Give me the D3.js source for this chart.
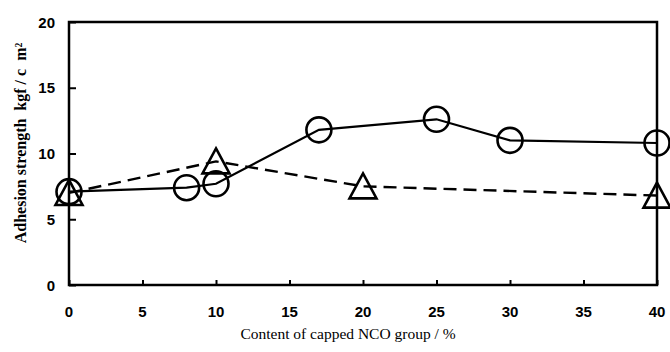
<!DOCTYPE html>
<html>
<head>
<meta charset="utf-8">
<script src="https://cdn.jsdelivr.net/npm/d3@7"></script>
<style>
  body { margin: 0; background: #fff; }
  svg { display: block; }
</style>
</head>
<body>
<svg id="chart" width="670" height="352"></svg>
<script>
// ---- data ----
const circleX = [0, 8, 10, 17, 25, 30, 40];
const circleY = [7.1, 7.4, 7.7, 11.8, 12.6, 11.0, 10.8];
const triangleX = [0, 10, 20, 40];
const triangleY = [7.0, 9.4, 7.5, 6.8];
const xTicks = [0, 5, 10, 15, 20, 25, 30, 35, 40];
const yTicks = [0, 5, 10, 15, 20];
const xTitle = "Content of capped NCO group / %";
const yTitle = "Adhesion strength  kgf / c  m²";

// ---- layout ----
const mLeft = 69, mRight = 657, mTop = 22, mBottom = 285;
const svg = d3.select("#chart");
const x = d3.scaleLinear().domain([0, 40]).range([mLeft, mRight]);
const y = d3.scaleLinear().domain([0, 20]).range([mBottom, mTop]);

// frame
svg.append("rect")
  .attr("x", mLeft).attr("y", mTop)
  .attr("width", mRight - mLeft).attr("height", mBottom - mTop)
  .attr("fill", "none").attr("stroke", "#000").attr("stroke-width", 2.5);

// axes with inward ticks
const xAxis = svg.append("g").attr("transform", `translate(0,${mBottom})`)
  .call(d3.axisTop(x).tickValues(xTicks).tickSize(5).tickFormat(""));
xAxis.select(".domain").remove();
xAxis.selectAll("line").attr("stroke", "#000").attr("stroke-width", 2);

const yAxis = svg.append("g").attr("transform", `translate(${mLeft},0)`)
  .call(d3.axisRight(y).tickValues(yTicks).tickSize(7).tickFormat(""));
yAxis.select(".domain").remove();
yAxis.selectAll("line").attr("stroke", "#000").attr("stroke-width", 2);

// tick labels
const labelFont = "'Liberation Sans', Arial, sans-serif";
svg.append("g").selectAll("text").data(xTicks).join("text")
  .attr("x", d => x(d)).attr("y", 317)
  .attr("text-anchor", "middle")
  .attr("font-family", labelFont).attr("font-weight", "bold").attr("font-size", 15)
  .text(d => d);
svg.append("g").selectAll("text").data(yTicks).join("text")
  .attr("x", 55).attr("y", d => y(d) + 5.5)
  .attr("text-anchor", "end")
  .attr("font-family", labelFont).attr("font-weight", "bold").attr("font-size", 15)
  .text(d => d);

// titles
svg.append("text")
  .attr("x", 348).attr("y", 339)
  .attr("text-anchor", "middle")
  .attr("font-family", "'Liberation Serif', 'Times New Roman', serif")
  .attr("font-size", 15.5)
  .text(xTitle);
svg.append("text")
  .attr("transform", "translate(26,143) rotate(-90)")
  .attr("text-anchor", "middle")
  .attr("font-family", "'Liberation Serif', 'Times New Roman', serif")
  .attr("font-weight", "bold")
  .attr("font-size", 16)
  .attr("xml:space", "preserve")
  .style("white-space", "pre")
  .text(yTitle);

// series lines
const circData = circleX.map((d, i) => [d, circleY[i]]);
const triData = triangleX.map((d, i) => [d, triangleY[i]]);

svg.append("path")
  .datum(triData)
  .attr("fill", "none").attr("stroke", "#000").attr("stroke-width", 2.4)
  .attr("stroke-dasharray", "13,7")
  .attr("d", d3.line().x(d => x(d[0])).y(d => y(d[1])));

svg.append("path")
  .datum(circData)
  .attr("fill", "none").attr("stroke", "#000").attr("stroke-width", 2.2)
  .attr("d", d3.line().x(d => x(d[0])).y(d => y(d[1])));

// markers
svg.append("g").selectAll("circle").data(circData).join("circle")
  .attr("cx", d => x(d[0])).attr("cy", d => y(d[1])).attr("r", 12.5)
  .attr("fill", "none").attr("stroke", "#000").attr("stroke-width", 2.6);

svg.append("g").selectAll("path").data(triData).join("path")
  .attr("transform", d => `translate(${x(d[0])},${y(d[1])})`)
  .attr("d", "M0,-13L13.5,12L-13.5,12Z")
  .attr("fill", "none").attr("stroke", "#000").attr("stroke-width", 2.6)
  .attr("stroke-linejoin", "miter");
</script>
</body>
</html>
